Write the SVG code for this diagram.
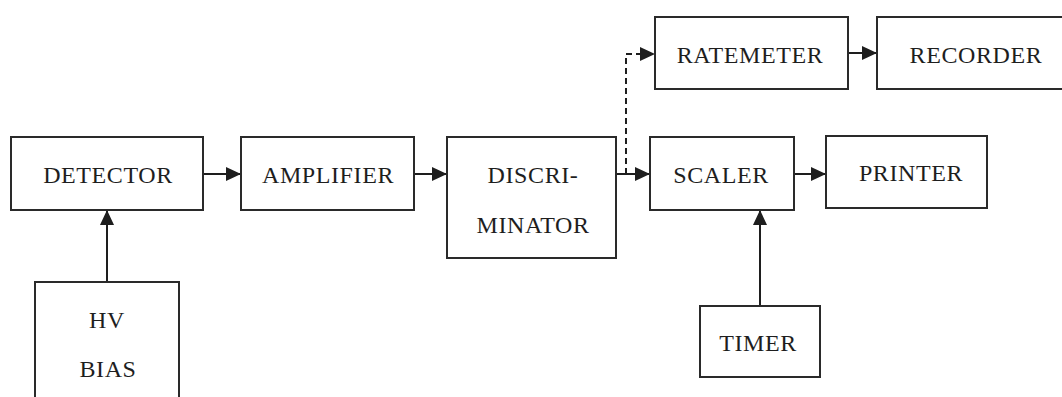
<svg xmlns="http://www.w3.org/2000/svg" width="1062" height="397" viewBox="0 0 1062 397">
<style>
.box{fill:#fff;stroke:#2a2a2a;stroke-width:2}
.lbl{font-family:"Liberation Serif","Times New Roman",serif;font-size:24px;fill:#1e1e1e;text-anchor:middle;letter-spacing:0.6px}
.ln{fill:none;stroke:#1e1e1e;stroke-width:2}
.dash{stroke-dasharray:6,4}
</style>
<defs>
<marker id="ah" markerUnits="userSpaceOnUse" markerWidth="15" markerHeight="14" refX="15" refY="7" orient="auto">
<path d="M0,0 L15,7 L0,14 z" fill="#1e1e1e"/>
</marker>
</defs>
<rect width="1062" height="397" fill="#fff"/>
<g id="connectors">
<line class="ln" x1="203" y1="174" x2="241" y2="174" marker-end="url(#ah)"/>
<line class="ln" x1="414" y1="174" x2="447" y2="174" marker-end="url(#ah)"/>
<line class="ln" x1="616" y1="174" x2="650" y2="174" marker-end="url(#ah)"/>
<line class="ln" x1="794" y1="174" x2="826" y2="174" marker-end="url(#ah)"/>
<line class="ln" x1="848" y1="53" x2="877" y2="53" marker-end="url(#ah)"/>
<path class="ln dash" d="M626,174 V54 H655" marker-end="url(#ah)"/>
<line class="ln" x1="107" y1="282" x2="107" y2="210" marker-end="url(#ah)"/>
<line class="ln" x1="760" y1="306" x2="760" y2="210" marker-end="url(#ah)"/>
</g>
<g id="detector"><rect class="box" x="11" y="137" width="192" height="73"/><text class="lbl" x="108" y="183">DETECTOR</text></g>
<g id="amplifier"><rect class="box" x="241" y="137" width="173" height="73"/><text class="lbl" x="328" y="183">AMPLIFIER</text></g>
<g id="discriminator"><rect class="box" x="447" y="137" width="169" height="121"/><text class="lbl" x="533" y="183">DISCRI-</text><text class="lbl" x="533" y="233">MINATOR</text></g>
<g id="scaler"><rect class="box" x="650" y="137" width="144" height="73"/><text class="lbl" x="721" y="183">SCALER</text></g>
<g id="printer"><rect class="box" x="826" y="136" width="161" height="72"/><text class="lbl" x="911" y="181">PRINTER</text></g>
<g id="ratemeter"><rect class="box" x="655" y="17" width="193" height="72"/><text class="lbl" x="750" y="63">RATEMETER</text></g>
<g id="recorder"><rect class="box" x="877" y="17" width="200" height="72"/><text class="lbl" x="976" y="63">RECORDER</text></g>
<g id="hvbias"><rect class="box" x="35" y="282" width="144" height="130"/><text class="lbl" x="107" y="328">HV</text><text class="lbl" x="108" y="377">BIAS</text></g>
<g id="timer"><rect class="box" x="700" y="306" width="120" height="71"/><text class="lbl" x="758" y="351">TIMER</text></g>
</svg>
